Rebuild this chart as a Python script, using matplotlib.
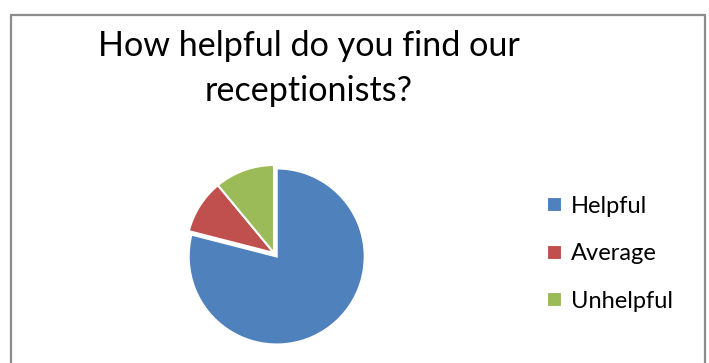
import matplotlib.pyplot as plt
from matplotlib.patches import Rectangle

# survey answers, share of respondents (%)
labels = ["Helpful", "Average", "Unhelpful"]
shares = [79, 10, 11]
colors = ["#4F81BD", "#C0504D", "#9BBB59"]
explode = [0.05, 0, 0]

W, H = 709, 363
fig = plt.figure(figsize=(W / 100, H / 100), dpi=100)
plt.rcParams['font.family'] = ['Lato', 'DejaVu Sans']

# chart frame, open at the bottom
frame = Rectangle((11 / W, -0.1), (705 - 11) / W, 1.1 - 15 / H,
                  transform=fig.transFigure, fill=False,
                  edgecolor="#8C8C8C", linewidth=1.6)
fig.patches.append(frame)

fig.text(309 / W, 1 - 46 / H, "How helpful do you find our",
         ha="center", va="center", fontsize=24.6)
fig.text(309 / W, 1 - 91 / H, "receptionists?",
         ha="center", va="center", fontsize=24.6)

# pie: centre (274, 253) px, radius 88 px
cx, cy, r = 274, 253, 88
ax = fig.add_axes([(cx - r) / W, 1 - (cy + r) / H, 2 * r / W, 2 * r / H])
wedges, _ = ax.pie(shares, colors=colors, startangle=90, counterclock=False,
                   explode=explode,
                   wedgeprops=dict(edgecolor="white", linewidth=1.5))
ax.set_xlim(-1, 1)
ax.set_ylim(-1, 1)
ax.set_aspect("equal")
ax.axis("off")

leg = fig.legend(wedges, labels, loc="center left",
                 bbox_to_anchor=(526 / W, 1 - 254 / H),
                 frameon=False, fontsize=17, handlelength=0.62,
                 handleheight=0.62, handletextpad=0.38, labelspacing=1.12)

fig.savefig("out.png", dpi=100, facecolor="white")
